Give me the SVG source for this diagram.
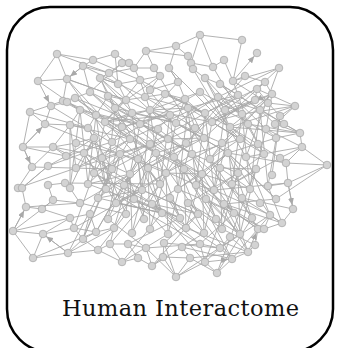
<svg xmlns="http://www.w3.org/2000/svg" width="337" height="348" viewBox="0 0 337 348">
<style>
.e{fill:none;stroke:#a9a9a9;stroke-width:0.9;stroke-linejoin:round}
.a{fill:none;stroke:#a9a9a9;stroke-width:0.9;marker-end:url(#arr)}
#nodes circle{fill:#d3d3d3;stroke:#a9a9a9;stroke-width:0.8}
.lbl{font-family:"DejaVu Serif","Liberation Serif",serif;font-size:22.5px;fill:#111}
</style>
<defs>
<marker id="arr" viewBox="0 0 7 6" refX="11" refY="3" markerWidth="7" markerHeight="6" markerUnits="userSpaceOnUse" orient="auto">
<path d="M0,0 L7,3 L0,6 z" fill="#a9a9a9"/>
</marker>
</defs>
<rect x="7" y="7" width="326" height="345" rx="43" ry="43" fill="#fff" stroke="#000" stroke-width="2.5"/>
<g id="connectors">
<path class="e" d="M57 54 L38 81 L67 79 L57 54 L93 60 L83 66 L67 79 L63 101 L75 98 L90 92 L83 66 L109 73 L100 78 L118 84 L115 54 L93 60
M30 112 L63 101 L67 102 L51 106 L45 124 L30 112 L23 147 L45 124 L70 125 L80 110 L67 102 L96 115 L88 128 L70 125 L53 147 L23 147 L32 167 L53 147 L76 143 L94 138 L88 128
M32 167 L18 188 L22 188 L48 166 L66 156 L53 147 L84 153 L48 166 L22 188 L26 207 L42 209 L53 200 L48 185 L65 183 L70 188 L80 203 L53 200 L42 209 L13 231 L26 207
M13 231 L33 258 L43 234 L13 231 M33 258 L68 253 L43 234 L74 228 L83 239 L68 253 L98 250 L83 239 L96 232 L74 228 L70 218 L42 209 M70 218 L90 214 L83 239 M43 234 L70 218
M98 250 L122 262 L110 244 L98 250 M122 262 L138 258 L128 244 L110 244 L114 228 L96 232 L90 214 M138 258 L152 266 L146 248 L128 244 M152 266 L163 257 L176 277 L146 248 M176 277 L164 243 L163 257 L190 258 L176 277 L205 262 L217 273 L190 258 L182 247
M217 273 L232 259 L220 248 L205 262 L200 244 L220 248 L230 237 L248 252 L232 259 M248 252 L255 245 L258 229 L264 229 L282 223 L293 209 L288 183 L327 165 L286 163 L288 183 L268 186 L282 223 L270 215 L264 229
M327 165 L302 147 L286 163 L280 158 L302 147 L300 133 L284 124 L275 124 L300 133 M275 124 L295 106 L268 103 L280 116 L295 106 L257 89 L268 103 L260 110 L275 124 M266 129 L276 138 L300 133
M242 40 L200 35 L176 46 L146 51 L154 68 M200 35 L213 67 L191 63 L200 35 M242 40 L233 81 L224 60 L213 67 M233 81 L279 68 M257 89 L279 68 M233 81 L245 76 L265 82 L257 89 L255 100 L272 94 L265 82 M233 81 L238 95 L220 84 L205 78 L193 69 L188 56 L176 46 L169 68 L178 82
M115 54 L129 63 L122 63 L134 68 L146 51 L188 56 L191 63 M134 68 L154 68 L160 76 L140 80 L134 68 L109 73 L122 63 M140 80 L118 84 L100 78 M160 76 L150 90 L178 82 L169 68 M150 90 L145 97 L126 100 L118 84 M145 97 L165 94 L185 99 L178 82 M165 94 L150 110 L132 113 L126 100 L108 96 L115 108
M80 110 L140 124 L108 96 L96 115 L158 129 L115 108 L176 123 L132 113 L105 122 L170 115 L122 127 L188 108 L150 110 L212 122 L185 99 L195 128 L145 97 L205 113 L165 94 L230 127 L200 92 L242 114 L218 97 L260 110 L238 95 L248 124 L205 78 L225 110 L255 100 L212 122 L272 94 L266 129 L220 84 L284 124
M100 78 L126 100 L105 122 L150 110 L140 80 L170 115 L158 129 L192 154 L168 139 L204 138 L185 99 L176 123 L222 143 L210 159 L240 139 L212 122 L242 114 L248 124 L264 154 L230 127 L205 78
M88 128 L112 169 L130 139 L102 158 L150 144 L124 185 L138 159 L160 184 L148 168 L186 143 L166 173 L202 174 L174 157 L214 190 L196 185 L228 153 L202 174 L250 189 L220 168 L256 169 L232 184
M66 156 L94 138 L76 168 L120 154 L88 184 L130 174 L98 198 L142 190 L116 203 L162 213 L134 199 L180 218 L152 204 L186 228 L170 198 L204 233 L188 203 L222 229 L206 199 L240 234 L224 204
M70 188 L94 138 L106 189 L84 153 L116 203 L102 158 L126 214 L130 174 L108 219 L120 154 L144 219 L138 159 L162 213 L148 168 L180 218 L156 153 L198 214 L174 157 L216 219 L192 154 L234 213 L210 159 L252 218 L228 153 L270 215 L246 157
M132 113 L142 190 L150 110 L160 184 L170 115 L178 189 L188 108 L196 185 L205 113 L214 190 L225 110 L232 184 L242 114 L250 189 L260 110 L268 186 L280 116 L272 175
M115 108 L106 189 L96 115 L88 184 L80 110 L70 188 L70 125 L76 168 M105 122 L94 173 M122 127 L112 169 M140 124 L130 174 M158 129 L148 168 M176 123 L166 173 M195 128 L184 169 M212 122 L202 174 M230 127 L220 168 M248 124 L238 173 M266 129 L256 169
M114 228 L130 174 L132 233 L148 168 L150 229 L166 173 L168 234 L184 169 L186 228 L202 174 L204 233 L220 168 L222 229 L238 173 L240 234 L256 169
M245 76 L186 143 L130 174 L96 232 M265 82 L204 138 L148 168 L114 228 M272 94 L222 143 L166 173 L132 233 M255 100 L168 139 L112 169 L83 239 M238 95 L150 144 L94 173 L74 228 M218 97 L130 139 L76 168 M200 92 L112 142 L66 156
M67 79 L126 100 L176 123 L228 153 L276 199 M75 98 L140 124 L192 154 L242 198 L282 223 M80 110 L122 127 L174 157 L224 204 L258 229 M70 125 L130 139 L184 169 L234 213 L248 252 M76 143 L138 159 L196 185 L240 234 M84 153 L142 190 L198 214 L232 259 M94 173 L152 204 L200 244 M98 198 L162 213 L205 262
M63 101 L130 139 L75 98 L156 153 L90 92 L174 157 L100 78 L148 168 L67 79 L112 142 M93 60 L140 80 L205 113 L257 89 M109 73 L186 143 L238 95 M154 68 L210 159 L272 94 M169 68 L240 139 M193 69 L246 157 L279 68 M213 67 L264 154
M51 106 L138 159 L96 232 M45 124 L120 154 L83 239 M53 147 L142 190 L74 228 M32 167 L112 169 L68 253 M65 183 L160 184 L110 244 M88 184 L180 218 L128 244 M106 189 L200 244 L146 248 M124 185 L220 248 L164 243 M184 169 L232 259 L182 247 M202 174 L248 252 L190 258 M238 173 L205 262 M256 169 L217 273
M295 106 L230 127 L300 133 L248 124 M302 147 L246 157 M286 163 L228 153 M288 183 L214 190 M293 209 L242 198 M282 223 L224 204 M264 229 L206 199 M258 229 L196 185 M255 245 L222 229 M248 252 L186 228
M100 78 L122 127 L94 173 L134 199 L108 219 L146 248 M140 80 L105 122 L156 153 L124 185 L168 234 M178 82 L140 124 L192 154 L142 190 L198 214 L164 243 M218 97 L176 123 L228 153 L178 189 L234 213 L200 244 M255 100 L212 122 L264 154 L214 190 L270 215 L220 248 M272 94 L230 127 L280 158 L232 184 L258 229
M122 63 L90 92 L132 113 L84 153 L130 174 L80 203 L126 214 L98 250 M160 76 L115 108 L168 139 L120 154 L166 173 L116 203 L162 213 L122 262 M200 92 L150 110 L204 138 L156 153 L202 174 L152 204 L198 214 L152 266 M238 95 L188 108 L240 139 L192 154 L238 173 L188 203 L240 234 L176 277 M265 82 L225 110 L276 138 L228 153 L276 199 L224 204 L264 229
M57 54 L109 73 M83 66 L145 97 M67 79 L126 100 M38 81 L80 110 M30 112 L88 128 M23 147 L66 156 M18 188 L76 168 M26 207 L80 203 M13 231 L70 218 M33 258 L96 232 M68 253 L114 228 M122 262 L168 234 M152 266 L204 233 M217 273 L252 218 M232 259 L270 215 M327 165 L276 199 M302 147 L266 129 M300 133 L260 110 M295 106 L242 114 M279 68 L218 97"/>
<path class="a" d="M233 81 L257 53"/>
<path class="a" d="M38 81 L51 106"/>
<path class="a" d="M83 66 L67 79"/>
<path class="a" d="M23 147 L45 124"/>
<path class="a" d="M13 231 L26 207"/>
<path class="a" d="M68 253 L43 234"/>
<path class="a" d="M205 262 L232 259"/>
<path class="a" d="M248 252 L258 229"/>
<path class="a" d="M288 183 L293 209"/>
<path class="a" d="M233 81 L268 103"/>
<path class="a" d="M23 147 L32 167"/>
</g>
<g id="nodes">
<g id="p1"><circle cx="200" cy="35" r="3.8"/></g>
<g id="p2"><circle cx="242" cy="40" r="3.8"/></g>
<g id="p3"><circle cx="176" cy="46" r="3.8"/></g>
<g id="p4"><circle cx="146" cy="51" r="3.8"/></g>
<g id="p5"><circle cx="115" cy="54" r="3.8"/></g>
<g id="p6"><circle cx="57" cy="54" r="3.8"/></g>
<g id="p7"><circle cx="257" cy="53" r="3.8"/></g>
<g id="p8"><circle cx="188" cy="56" r="3.8"/></g>
<g id="p9"><circle cx="224" cy="60" r="3.8"/></g>
<g id="p10"><circle cx="93" cy="60" r="3.8"/></g>
<g id="p11"><circle cx="83" cy="66" r="3.8"/></g>
<g id="p12"><circle cx="122" cy="63" r="3.8"/></g>
<g id="p13"><circle cx="129" cy="63" r="3.8"/></g>
<g id="p14"><circle cx="134" cy="68" r="3.8"/></g>
<g id="p15"><circle cx="191" cy="63" r="3.8"/></g>
<g id="p16"><circle cx="193" cy="69" r="3.8"/></g>
<g id="p17"><circle cx="213" cy="67" r="3.8"/></g>
<g id="p18"><circle cx="279" cy="68" r="3.8"/></g>
<g id="p19"><circle cx="169" cy="68" r="3.8"/></g>
<g id="p20"><circle cx="154" cy="68" r="3.8"/></g>
<g id="p21"><circle cx="109" cy="73" r="3.8"/></g>
<g id="p22"><circle cx="67" cy="79" r="3.8"/></g>
<g id="p23"><circle cx="38" cy="81" r="3.8"/></g>
<g id="p24"><circle cx="233" cy="81" r="3.8"/></g>
<g id="p25"><circle cx="257" cy="89" r="3.8"/></g>
<g id="p26"><circle cx="295" cy="106" r="3.8"/></g>
<g id="p27"><circle cx="51" cy="106" r="3.8"/></g>
<g id="p28"><circle cx="30" cy="112" r="3.8"/></g>
<g id="p29"><circle cx="63" cy="101" r="3.8"/></g>
<g id="p30"><circle cx="67" cy="102" r="3.8"/></g>
<g id="p31"><circle cx="268" cy="103" r="3.8"/></g>
<g id="p32"><circle cx="45" cy="124" r="3.8"/></g>
<g id="p33"><circle cx="275" cy="124" r="3.8"/></g>
<g id="p34"><circle cx="300" cy="133" r="3.8"/></g>
<g id="p35"><circle cx="23" cy="147" r="3.8"/></g>
<g id="p36"><circle cx="302" cy="147" r="3.8"/></g>
<g id="p37"><circle cx="327" cy="165" r="3.8"/></g>
<g id="p38"><circle cx="32" cy="167" r="3.8"/></g>
<g id="p39"><circle cx="286" cy="163" r="3.8"/></g>
<g id="p40"><circle cx="18" cy="188" r="3.8"/></g>
<g id="p41"><circle cx="22" cy="188" r="3.8"/></g>
<g id="p42"><circle cx="288" cy="183" r="3.8"/></g>
<g id="p43"><circle cx="26" cy="207" r="3.8"/></g>
<g id="p44"><circle cx="42" cy="209" r="3.8"/></g>
<g id="p45"><circle cx="293" cy="209" r="3.8"/></g>
<g id="p46"><circle cx="13" cy="231" r="3.8"/></g>
<g id="p47"><circle cx="43" cy="234" r="3.8"/></g>
<g id="p48"><circle cx="282" cy="223" r="3.8"/></g>
<g id="p49"><circle cx="33" cy="258" r="3.8"/></g>
<g id="p50"><circle cx="68" cy="253" r="3.8"/></g>
<g id="p51"><circle cx="98" cy="250" r="3.8"/></g>
<g id="p52"><circle cx="122" cy="262" r="3.8"/></g>
<g id="p53"><circle cx="138" cy="258" r="3.8"/></g>
<g id="p54"><circle cx="152" cy="266" r="3.8"/></g>
<g id="p55"><circle cx="163" cy="257" r="3.8"/></g>
<g id="p56"><circle cx="176" cy="277" r="3.8"/></g>
<g id="p57"><circle cx="217" cy="273" r="3.8"/></g>
<g id="p58"><circle cx="232" cy="259" r="3.8"/></g>
<g id="p59"><circle cx="248" cy="252" r="3.8"/></g>
<g id="p60"><circle cx="255" cy="245" r="3.8"/></g>
<g id="p61"><circle cx="258" cy="229" r="3.8"/></g>
<g id="p62"><circle cx="264" cy="229" r="3.8"/></g>
<g id="p63"><circle cx="230" cy="237" r="3.8"/></g>
<g id="p64"><circle cx="83" cy="239" r="3.8"/></g>
<g id="p65"><circle cx="74" cy="228" r="3.8"/></g>
<g id="p66"><circle cx="53" cy="200" r="3.8"/></g>
<g id="p67"><circle cx="65" cy="183" r="3.8"/></g>
<g id="p68"><circle cx="53" cy="147" r="3.8"/></g>
<g id="p69"><circle cx="48" cy="166" r="3.8"/></g>
<g id="a1"><circle cx="100" cy="78" r="3.8"/></g>
<g id="a2"><circle cx="118" cy="84" r="3.8"/></g>
<g id="a3"><circle cx="140" cy="80" r="3.8"/></g>
<g id="a4"><circle cx="160" cy="76" r="3.8"/></g>
<g id="a5"><circle cx="178" cy="82" r="3.8"/></g>
<g id="a6"><circle cx="205" cy="78" r="3.8"/></g>
<g id="a7"><circle cx="220" cy="84" r="3.8"/></g>
<g id="a8"><circle cx="245" cy="76" r="3.8"/></g>
<g id="a9"><circle cx="265" cy="82" r="3.8"/></g>
<g id="a10"><circle cx="150" cy="90" r="3.8"/></g>
<g id="b1"><circle cx="75" cy="98" r="3.8"/></g>
<g id="b2"><circle cx="90" cy="92" r="3.8"/></g>
<g id="b3"><circle cx="108" cy="96" r="3.8"/></g>
<g id="b4"><circle cx="126" cy="100" r="3.8"/></g>
<g id="b5"><circle cx="145" cy="97" r="3.8"/></g>
<g id="b6"><circle cx="165" cy="94" r="3.8"/></g>
<g id="b7"><circle cx="185" cy="99" r="3.8"/></g>
<g id="b8"><circle cx="200" cy="92" r="3.8"/></g>
<g id="b9"><circle cx="218" cy="97" r="3.8"/></g>
<g id="b10"><circle cx="238" cy="95" r="3.8"/></g>
<g id="b11"><circle cx="255" cy="100" r="3.8"/></g>
<g id="b12"><circle cx="272" cy="94" r="3.8"/></g>
<g id="c1"><circle cx="80" cy="110" r="3.8"/></g>
<g id="c2"><circle cx="96" cy="115" r="3.8"/></g>
<g id="c3"><circle cx="115" cy="108" r="3.8"/></g>
<g id="c4"><circle cx="132" cy="113" r="3.8"/></g>
<g id="c5"><circle cx="150" cy="110" r="3.8"/></g>
<g id="c6"><circle cx="170" cy="115" r="3.8"/></g>
<g id="c7"><circle cx="188" cy="108" r="3.8"/></g>
<g id="c8"><circle cx="205" cy="113" r="3.8"/></g>
<g id="c9"><circle cx="225" cy="110" r="3.8"/></g>
<g id="c10"><circle cx="242" cy="114" r="3.8"/></g>
<g id="c11"><circle cx="260" cy="110" r="3.8"/></g>
<g id="c12"><circle cx="280" cy="116" r="3.8"/></g>
<g id="d1"><circle cx="70" cy="125" r="3.8"/></g>
<g id="d2"><circle cx="88" cy="128" r="3.8"/></g>
<g id="d3"><circle cx="105" cy="122" r="3.8"/></g>
<g id="d4"><circle cx="122" cy="127" r="3.8"/></g>
<g id="d5"><circle cx="140" cy="124" r="3.8"/></g>
<g id="d6"><circle cx="158" cy="129" r="3.8"/></g>
<g id="d7"><circle cx="176" cy="123" r="3.8"/></g>
<g id="d8"><circle cx="195" cy="128" r="3.8"/></g>
<g id="d9"><circle cx="212" cy="122" r="3.8"/></g>
<g id="d10"><circle cx="230" cy="127" r="3.8"/></g>
<g id="d11"><circle cx="248" cy="124" r="3.8"/></g>
<g id="d12"><circle cx="266" cy="129" r="3.8"/></g>
<g id="d13"><circle cx="284" cy="124" r="3.8"/></g>
<g id="e1"><circle cx="76" cy="143" r="3.8"/></g>
<g id="e2"><circle cx="94" cy="138" r="3.8"/></g>
<g id="e3"><circle cx="112" cy="142" r="3.8"/></g>
<g id="e4"><circle cx="130" cy="139" r="3.8"/></g>
<g id="e5"><circle cx="150" cy="144" r="3.8"/></g>
<g id="e6"><circle cx="168" cy="139" r="3.8"/></g>
<g id="e7"><circle cx="186" cy="143" r="3.8"/></g>
<g id="e8"><circle cx="204" cy="138" r="3.8"/></g>
<g id="e9"><circle cx="222" cy="143" r="3.8"/></g>
<g id="e10"><circle cx="240" cy="139" r="3.8"/></g>
<g id="e11"><circle cx="258" cy="144" r="3.8"/></g>
<g id="e12"><circle cx="276" cy="138" r="3.8"/></g>
<g id="f1"><circle cx="66" cy="156" r="3.8"/></g>
<g id="f2"><circle cx="84" cy="153" r="3.8"/></g>
<g id="f3"><circle cx="102" cy="158" r="3.8"/></g>
<g id="f4"><circle cx="120" cy="154" r="3.8"/></g>
<g id="f5"><circle cx="138" cy="159" r="3.8"/></g>
<g id="f6"><circle cx="156" cy="153" r="3.8"/></g>
<g id="f7"><circle cx="174" cy="157" r="3.8"/></g>
<g id="f8"><circle cx="192" cy="154" r="3.8"/></g>
<g id="f9"><circle cx="210" cy="159" r="3.8"/></g>
<g id="f10"><circle cx="228" cy="153" r="3.8"/></g>
<g id="f11"><circle cx="246" cy="157" r="3.8"/></g>
<g id="f12"><circle cx="264" cy="154" r="3.8"/></g>
<g id="f13"><circle cx="280" cy="158" r="3.8"/></g>
<g id="g1"><circle cx="76" cy="168" r="3.8"/></g>
<g id="g2"><circle cx="94" cy="173" r="3.8"/></g>
<g id="g3"><circle cx="112" cy="169" r="3.8"/></g>
<g id="g4"><circle cx="130" cy="174" r="3.8"/></g>
<g id="g5"><circle cx="148" cy="168" r="3.8"/></g>
<g id="g6"><circle cx="166" cy="173" r="3.8"/></g>
<g id="g7"><circle cx="184" cy="169" r="3.8"/></g>
<g id="g8"><circle cx="202" cy="174" r="3.8"/></g>
<g id="g9"><circle cx="220" cy="168" r="3.8"/></g>
<g id="g10"><circle cx="238" cy="173" r="3.8"/></g>
<g id="g11"><circle cx="256" cy="169" r="3.8"/></g>
<g id="g12"><circle cx="272" cy="175" r="3.8"/></g>
<g id="h1"><circle cx="48" cy="185" r="3.8"/></g>
<g id="h2"><circle cx="70" cy="188" r="3.8"/></g>
<g id="h3"><circle cx="88" cy="184" r="3.8"/></g>
<g id="h4"><circle cx="106" cy="189" r="3.8"/></g>
<g id="h5"><circle cx="124" cy="185" r="3.8"/></g>
<g id="h6"><circle cx="142" cy="190" r="3.8"/></g>
<g id="h7"><circle cx="160" cy="184" r="3.8"/></g>
<g id="h8"><circle cx="178" cy="189" r="3.8"/></g>
<g id="h9"><circle cx="196" cy="185" r="3.8"/></g>
<g id="h10"><circle cx="214" cy="190" r="3.8"/></g>
<g id="h11"><circle cx="232" cy="184" r="3.8"/></g>
<g id="h12"><circle cx="250" cy="189" r="3.8"/></g>
<g id="h13"><circle cx="268" cy="186" r="3.8"/></g>
<g id="i1"><circle cx="80" cy="203" r="3.8"/></g>
<g id="i2"><circle cx="98" cy="198" r="3.8"/></g>
<g id="i3"><circle cx="116" cy="203" r="3.8"/></g>
<g id="i4"><circle cx="134" cy="199" r="3.8"/></g>
<g id="i5"><circle cx="152" cy="204" r="3.8"/></g>
<g id="i6"><circle cx="170" cy="198" r="3.8"/></g>
<g id="i7"><circle cx="188" cy="203" r="3.8"/></g>
<g id="i8"><circle cx="206" cy="199" r="3.8"/></g>
<g id="i9"><circle cx="224" cy="204" r="3.8"/></g>
<g id="i10"><circle cx="242" cy="198" r="3.8"/></g>
<g id="i11"><circle cx="260" cy="203" r="3.8"/></g>
<g id="i12"><circle cx="276" cy="199" r="3.8"/></g>
<g id="j1"><circle cx="70" cy="218" r="3.8"/></g>
<g id="j2"><circle cx="90" cy="214" r="3.8"/></g>
<g id="j3"><circle cx="108" cy="219" r="3.8"/></g>
<g id="j4"><circle cx="126" cy="214" r="3.8"/></g>
<g id="j5"><circle cx="144" cy="219" r="3.8"/></g>
<g id="j6"><circle cx="162" cy="213" r="3.8"/></g>
<g id="j7"><circle cx="180" cy="218" r="3.8"/></g>
<g id="j8"><circle cx="198" cy="214" r="3.8"/></g>
<g id="j9"><circle cx="216" cy="219" r="3.8"/></g>
<g id="j10"><circle cx="234" cy="213" r="3.8"/></g>
<g id="j11"><circle cx="252" cy="218" r="3.8"/></g>
<g id="j12"><circle cx="270" cy="215" r="3.8"/></g>
<g id="k1"><circle cx="96" cy="232" r="3.8"/></g>
<g id="k2"><circle cx="114" cy="228" r="3.8"/></g>
<g id="k3"><circle cx="132" cy="233" r="3.8"/></g>
<g id="k4"><circle cx="150" cy="229" r="3.8"/></g>
<g id="k5"><circle cx="168" cy="234" r="3.8"/></g>
<g id="k6"><circle cx="186" cy="228" r="3.8"/></g>
<g id="k7"><circle cx="204" cy="233" r="3.8"/></g>
<g id="k8"><circle cx="222" cy="229" r="3.8"/></g>
<g id="k9"><circle cx="240" cy="234" r="3.8"/></g>
<g id="l1"><circle cx="110" cy="244" r="3.8"/></g>
<g id="l2"><circle cx="128" cy="244" r="3.8"/></g>
<g id="l3"><circle cx="146" cy="248" r="3.8"/></g>
<g id="l4"><circle cx="164" cy="243" r="3.8"/></g>
<g id="l5"><circle cx="182" cy="247" r="3.8"/></g>
<g id="l6"><circle cx="200" cy="244" r="3.8"/></g>
<g id="l7"><circle cx="220" cy="248" r="3.8"/></g>
<g id="l8"><circle cx="190" cy="258" r="3.8"/></g>
<g id="l9"><circle cx="205" cy="262" r="3.8"/></g>
</g>
<text class="lbl" x="62" y="316" textLength="237" lengthAdjust="spacing">Human Interactome</text>
</svg>
